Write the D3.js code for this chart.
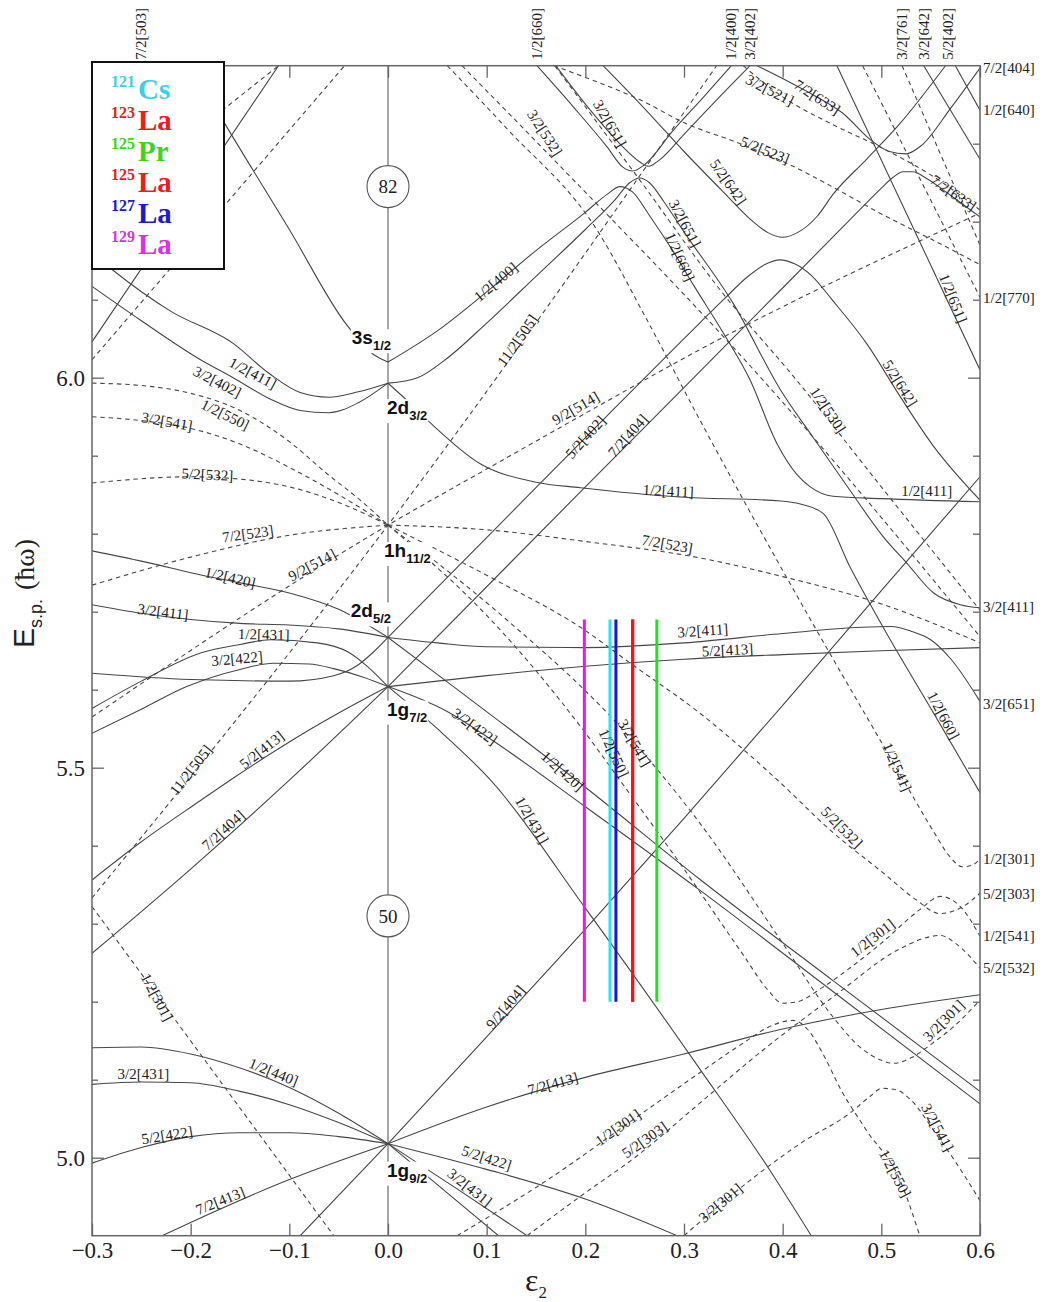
<!DOCTYPE html>
<html>
<head>
<meta charset="utf-8">
<script src="https://cdn.jsdelivr.net/npm/d3@7"></script>
<style>
  body { margin: 0; background: #fff; }
  svg { display: block; }
</style>
</head>
<body>
<svg id="chart" width="1044" height="1302"></svg>
<script>
// ---------------------------------------------------------------
// Nilsson single-particle levels, proton N = 50–82 region.
// Each level is a list of [ε2, E (ħω)] points.
// ---------------------------------------------------------------
const xDomain = [-0.3, 0.6];
const yDomain = [4.9, 6.4];
const xTicks = [-0.3, -0.2, -0.1, 0.0, 0.1, 0.2, 0.3, 0.4, 0.5, 0.6];
const yMajorTicks = [5.0, 5.5, 6.0];
const yMinorTicks = [5.1, 5.2, 5.3, 5.4, 5.6, 5.7, 5.8, 5.9, 6.1, 6.2, 6.3];

// positive-parity levels from 1g9/2
const levelsG92 = [
  [[-0.3,5.141],[-0.25,5.142],[-0.2,5.133],[-0.15,5.115],[-0.1,5.09],[-0.05,5.057],[0,5.018]],
  [[0,5.018],[0.06,4.955],[0.112,4.9]],
  [[-0.3,5.094],[-0.25,5.097],[-0.2,5.096],[-0.15,5.085],[-0.1,5.068],[-0.05,5.045],[0,5.018]],
  [[0,5.018],[0.07,4.96],[0.141,4.9]],
  [[-0.3,4.993],[-0.25,5.013],[-0.2,5.027],[-0.15,5.032],[-0.1,5.032],[-0.05,5.027],[0,5.018]],
  [[0,5.018],[0.1,4.985],[0.2,4.947],[0.293,4.9]],
  [[-0.229,4.9],[-0.2,4.917],[-0.1,4.972],[0,5.018]],
  [[0,5.018],[0.1,5.065],[0.2,5.103],[0.3,5.133],[0.4,5.165],[0.5,5.19],[0.6,5.209]],
  [[-0.089,4.9],[0,5.018]],
  [[0,5.018],[0.1,5.155],[0.2,5.293],[0.3,5.435],[0.4,5.58],[0.5,5.727],[0.6,5.873]]
];

// positive-parity levels from 1g7/2 and 2d5/2
const levelsG72D52 = [
  [[0,5.604],[0.05,5.55],[0.104,5.484],[0.2,5.32],[0.317,5.112],[0.387,4.984],[0.429,4.9]],
  [[0,5.604],[0.06,5.572],[0.1,5.54],[0.2,5.45],[0.316,5.343],[0.45,5.214],[0.6,5.069]],
  [[0,5.667],[0.06,5.61],[0.2,5.475],[0.316,5.357],[0.45,5.228],[0.6,5.085]],
  [[-0.3,5.778],[-0.24,5.762],[-0.2,5.75],[-0.15,5.737],[-0.1,5.724],[-0.05,5.703],[0,5.667]],
  [[-0.3,5.709],[-0.25,5.698],[-0.2,5.69],[-0.15,5.685],[-0.1,5.683],[-0.05,5.678],[0,5.667]],
  [[0,5.667],[0.05,5.66],[0.1,5.655],[0.2,5.654],[0.3,5.66],[0.4,5.672],[0.48,5.68],[0.51,5.681],[0.53,5.675],[0.55,5.664],[0.57,5.64],[0.6,5.585]],
  [[-0.3,5.621],[-0.2,5.613],[-0.1,5.611],[-0.055,5.618],[-0.03,5.632],[-0.015,5.648],[0,5.667]],
  [[-0.3,5.576],[-0.25,5.611],[-0.19,5.647],[-0.15,5.658],[-0.119,5.664],[-0.072,5.66],[-0.04,5.648],[-0.021,5.63],[0,5.604]],
  [[-0.3,5.544],[-0.25,5.575],[-0.204,5.604],[-0.15,5.626],[-0.116,5.634],[-0.08,5.633],[-0.055,5.627],[-0.025,5.616],[0,5.604]],
  [[-0.3,5.356],[-0.25,5.405],[-0.19,5.458],[-0.16,5.484],[-0.1,5.533],[-0.05,5.57],[0,5.604]],
  [[0,5.604],[0.1,5.618],[0.2,5.63],[0.3,5.639],[0.4,5.645],[0.5,5.65],[0.6,5.654]],
  [[-0.3,5.262],[-0.2,5.37],[-0.1,5.484],[0,5.604]]
];

// positive-parity levels above the N = 50–82 gap region
const levelsUpperSolid = [
  [[0,5.604],[0.2,5.86],[0.4,6.115],[0.46,6.192],[0.485,6.224],[0.5,6.243],[0.512,6.257],[0.522,6.264],[0.532,6.264],[0.545,6.256],[0.57,6.234],[0.6,6.206]],
  [[0,5.667],[0.1,5.795],[0.225,5.955],[0.3,6.05],[0.34,6.1],[0.365,6.13],[0.382,6.145],[0.397,6.151],[0.412,6.146],[0.43,6.13],[0.45,6.1],[0.485,6.044],[0.519,5.976],[0.553,5.912],[0.6,5.843]],
  [[0.218,6.4],[0.26,6.345],[0.3,6.29],[0.34,6.238],[0.37,6.2],[0.385,6.186],[0.4,6.18],[0.415,6.186],[0.435,6.207],[0.451,6.235],[0.485,6.28],[0.519,6.326],[0.565,6.4]],
  [[0.374,6.4],[0.42,6.37],[0.461,6.339],[0.491,6.303],[0.508,6.29],[0.525,6.287],[0.54,6.297],[0.57,6.345],[0.6,6.397]],
  [[0.455,6.4],[0.6,6.01]],
  [[0.543,6.4],[0.6,6.28]],
  [[0.575,6.4],[0.6,6.343]],
  [[0.151,6.4],[0.188,6.347],[0.222,6.296],[0.238,6.27],[0.248,6.265],[0.26,6.273],[0.289,6.317],[0.32,6.36],[0.348,6.4]],
  [[0.17,6.4],[0.205,6.343],[0.238,6.296],[0.256,6.276],[0.264,6.271],[0.275,6.279],[0.3,6.312],[0.33,6.352],[0.367,6.4]],
  [[0,6.02],[0.05,6.06],[0.1,6.11],[0.15,6.163],[0.2,6.212],[0.222,6.235],[0.235,6.245],[0.248,6.238],[0.265,6.208],[0.29,6.16],[0.31,6.118],[0.34,6.057],[0.367,5.997],[0.394,5.916],[0.415,5.875],[0.428,5.86],[0.451,5.848],[0.5,5.845],[0.6,5.841]],
  [[0,5.993],[0.03,6.0],[0.06,6.025],[0.1,6.07],[0.15,6.13],[0.2,6.19],[0.23,6.228],[0.245,6.25],[0.255,6.256],[0.265,6.25],[0.28,6.225],[0.3,6.187],[0.35,6.095],[0.398,5.984],[0.43,5.925],[0.468,5.856],[0.502,5.796],[0.526,5.762],[0.553,5.724],[0.58,5.709],[0.6,5.705]],
  [[0,5.993],[0.02,5.97],[0.043,5.942],[0.093,5.89],[0.15,5.866],[0.195,5.859],[0.296,5.847],[0.398,5.842],[0.418,5.838],[0.441,5.826],[0.468,5.758],[0.505,5.673],[0.553,5.57],[0.6,5.468]],
  [[-0.3,6.16],[-0.28,6.139],[-0.22,6.085],[-0.157,6.044],[-0.12,6.005],[-0.089,5.981],[-0.06,5.975],[-0.03,5.982],[0,5.993]],
  [[-0.3,6.117],[-0.25,6.073],[-0.19,6.023],[-0.157,6.0],[-0.12,5.973],[-0.089,5.958],[-0.06,5.955],[-0.03,5.968],[0,5.993]],
  [[-0.2,6.4],[-0.166,6.327],[-0.1,6.19],[-0.042,6.068],[-0.015,6.03],[0,6.02]],
  [[-0.3,6.046],[-0.111,6.4]]
];

// negative-parity levels from 1h11/2 and the N = 3 shell
const levelsH112 = [
  [[-0.3,5.993],[-0.25,5.99],[-0.2,5.98],[-0.15,5.958],[-0.1,5.918],[-0.06,5.875],[-0.03,5.845],[0,5.811]],
  [[-0.3,5.95],[-0.25,5.945],[-0.2,5.935],[-0.15,5.915],[-0.1,5.885],[-0.05,5.85],[0,5.811]],
  [[-0.3,5.865],[-0.2,5.873],[-0.15,5.87],[-0.1,5.86],[-0.05,5.84],[0,5.811]],
  [[-0.3,5.734],[-0.2,5.77],[-0.1,5.798],[0,5.811]],
  [[-0.3,5.565],[0,5.811],[0.11,5.89],[0.215,5.965],[0.316,6.036],[0.6,6.211]],
  [[-0.3,5.333],[0,5.811],[0.333,6.4]],
  [[0,5.811],[0.1,5.805],[0.2,5.79],[0.316,5.769],[0.4,5.745],[0.5,5.71],[0.6,5.66]],
  [[0,5.811],[0.11,5.74],[0.195,5.68],[0.25,5.63],[0.316,5.57],[0.394,5.485],[0.45,5.418],[0.502,5.365],[0.536,5.33],[0.559,5.313],[0.58,5.32],[0.6,5.339]],
  [[0,5.811],[0.12,5.69],[0.229,5.561],[0.316,5.429],[0.4,5.275],[0.45,5.182],[0.48,5.14],[0.5,5.125],[0.512,5.121],[0.53,5.128],[0.55,5.145],[0.575,5.17],[0.6,5.202]],
  [[0,5.811],[0.104,5.69],[0.195,5.553],[0.235,5.484],[0.3,5.37],[0.36,5.26],[0.385,5.215],[0.4,5.198],[0.415,5.2],[0.44,5.218],[0.47,5.245],[0.5,5.275],[0.539,5.318],[0.56,5.335],[0.58,5.322],[0.6,5.284]],
  [[0.07,4.9],[0.161,4.971],[0.262,5.061],[0.316,5.109],[0.36,5.147],[0.39,5.17],[0.41,5.176],[0.425,5.165],[0.44,5.135],[0.46,5.085],[0.485,5.035],[0.519,4.971],[0.539,4.9]],
  [[0.3,4.9],[0.367,4.971],[0.42,5.02],[0.468,5.057],[0.49,5.08],[0.5,5.089],[0.515,5.087],[0.53,5.074],[0.553,5.035],[0.575,4.995],[0.6,4.945]],
  [[0.141,4.9],[0.2,4.955],[0.25,5.0],[0.316,5.07],[0.384,5.142],[0.451,5.206],[0.519,5.268],[0.545,5.282],[0.56,5.285],[0.575,5.275],[0.6,5.243]],
  [[-0.3,5.322],[-0.055,4.9]]
];

// negative-parity levels coming down from the shells above
const levelsUpperDashed = [
  [[0.06,6.4],[0.12,6.32],[0.212,6.189],[0.26,6.08],[0.316,5.946],[0.434,5.677],[0.499,5.535],[0.532,5.463],[0.553,5.418],[0.57,5.385],[0.582,5.373],[0.592,5.375],[0.6,5.383]],
  [[0.075,6.4],[0.16,6.29],[0.38,5.997],[0.6,5.668]],
  [[0.169,6.4],[0.256,6.252],[0.337,6.112],[0.414,5.997],[0.5,5.86],[0.6,5.702]],
  [[0.168,6.4],[0.2,6.385],[0.256,6.356],[0.3,6.327],[0.357,6.3],[0.404,6.275],[0.45,6.245],[0.5,6.21],[0.55,6.178],[0.6,6.145]],
  [[0.36,6.4],[0.4,6.36],[0.45,6.325],[0.5,6.295],[0.55,6.26],[0.6,6.215]],
  [[0.521,6.4],[0.6,6.17]],
  [[0.481,6.4],[0.6,6.103]],
  [[-0.3,6.023],[-0.044,6.4]],
  [[-0.3,6.21],[-0.111,6.4]]
];

// orbital labels: text, ε2, E, slant (deg)
const orbitalLabels = [
  ["1/2[411]",-0.137,6.006,28], ["3/2[402]",-0.173,5.995,27], ["1/2[550]",-0.165,5.953,26],
  ["3/2[541]",-0.224,5.944,10], ["5/2[532]",-0.183,5.876,3], ["7/2[523]",-0.142,5.800,-8],
  ["1/2[420]",-0.160,5.744,13], ["9/2[514]",-0.077,5.760,-28], ["3/2[411]",-0.228,5.700,7],
  ["1/2[431]",-0.126,5.671,1], ["3/2[422]",-0.153,5.640,-5], ["11/2[505]",-0.200,5.497,-52],
  ["5/2[413]",-0.128,5.523,-38], ["7/2[404]",-0.167,5.420,-42], ["1/2[301]",-0.234,5.206,62],
  ["1/2[440]",-0.116,5.110,22], ["3/2[431]",-0.248,5.108,0], ["5/2[422]",-0.224,5.029,-9],
  ["7/2[413]",-0.170,4.945,-22],
  ["3/2[651]",0.225,6.326,60], ["3/2[532]",0.159,6.314,57], ["5/2[642]",0.345,6.251,55],
  ["3/2[521]",0.387,6.369,27], ["7/2[633]",0.435,6.360,33], ["5/2[523]",0.382,6.292,22],
  ["7/2[633]",0.573,6.237,35], ["3/2[651]",0.301,6.198,62], ["1/2[660]",0.296,6.155,66],
  ["1/2[400]",0.109,6.123,-40], ["11/2[505]",0.131,6.048,-55], ["1/2[651]",0.573,6.102,68],
  ["5/2[642]",0.519,5.993,58], ["1/2[530]",0.446,5.959,56], ["9/2[514]",0.190,5.961,-30],
  ["5/2[402]",0.200,5.924,-48], ["7/2[404]",0.243,5.926,-48], ["1/2[411]",0.284,5.855,3],
  ["1/2[411]",0.546,5.855,0], ["7/2[523]",0.283,5.787,10], ["3/2[411]",0.319,5.676,-4],
  ["5/2[413]",0.344,5.651,-3], ["3/2[422]",0.088,5.553,36], ["1/2[420]",0.177,5.496,42],
  ["1/2[550]",0.229,5.519,65], ["3/2[541]",0.250,5.532,60], ["1/2[431]",0.146,5.433,60],
  ["1/2[541]",0.516,5.501,66], ["1/2[660]",0.563,5.567,62], ["5/2[532]",0.460,5.424,45],
  ["9/2[404]",0.119,5.193,-50], ["7/2[413]",0.167,5.095,-15], ["1/2[301]",0.233,5.039,-35],
  ["5/2[303]",0.260,5.023,-35], ["5/2[422]",0.100,5.000,18], ["3/2[431]",0.083,4.962,38],
  ["3/2[301]",0.337,4.942,-40], ["1/2[301]",0.491,5.282,-38], ["3/2[301]",0.563,5.176,-45],
  ["3/2[541]",0.557,5.039,62], ["1/2[550]",0.514,4.980,62]
];

// labels at the upper edge (ε2) and the right edge (E)
const topLabels = [["7/2[503]",-0.251],["1/2[660]",0.151],["1/2[400]",0.347],["3/2[402]",0.367],
                   ["3/2[761]",0.521],["3/2[642]",0.543],["5/2[402]",0.567]];
const rightLabels = [["7/2[404]",6.397],["1/2[640]",6.343],["1/2[770]",6.102],["3/2[411]",5.706],
                     ["3/2[651]",5.582],["1/2[301]",5.383],["5/2[303]",5.339],["1/2[541]",5.284],
                     ["5/2[532]",5.243]];

// spherical orbitals at ε2 = 0
const shellLabels = [["3s","1/2",6.020],["2d","3/2",5.993],["1h","11/2",5.811],
                     ["2d","5/2",5.667],["1g","7/2",5.604],["1g","9/2",5.018]];
const magicNumbers = [[82,6.245],[50,5.310]];

// deformations of the nuclei (ε2) and the energy span of their markers
const nuclei = [["121","Cs","#3ccfe8"],["123","La","#ee1c1c"],["125","Pr","#3fd41a"],
                ["125","La","#ee1c1c"],["127","La","#1a1ad0"],["129","La","#df2edf"]];
const nucleusEps = [0.225, 0.248, 0.2725, 0.248, 0.231, 0.199];
const barColors = ["#22e6f0","#f01414","#22e022","#f01414","#1414e0","#ee14ee"];
const barRange = [5.2, 5.69];

// ---------------------------------------------------------------
const W = 1044, H = 1302;
const margin = { left: 92, right: 64, top: 65.7, bottom: 66.3 };
const svg = d3.select("#chart");
const x = d3.scaleLinear().domain(xDomain).range([margin.left, W - margin.right]);
const y = d3.scaleLinear().domain(yDomain).range([H - margin.bottom, margin.top]);
const SERIF = "'Liberation Serif', 'Times New Roman', serif";
const SANS = "'Liberation Sans', Arial, sans-serif";
const lineColor = "#464646";

svg.append("defs").append("clipPath").attr("id", "plotClip")
  .append("rect").attr("x", x(-0.3)).attr("y", y(6.4))
  .attr("width", x(0.6) - x(-0.3)).attr("height", y(4.9) - y(6.4));

// ε2 = 0 axis
svg.append("line").attr("x1", x(0)).attr("x2", x(0)).attr("y1", y(6.4)).attr("y2", y(4.9))
  .attr("stroke", "#777").attr("stroke-width", 1.3);

const plot = svg.append("g").attr("clip-path", "url(#plotClip)");
const line = d3.line().x(d => x(d[0])).y(d => y(d[1])).curve(d3.curveMonotoneX);

function drawLevels(list, dashed) {
  plot.append("g").selectAll("path").data(list).join("path")
    .attr("d", d => line(d.slice().sort((a, b) => a[0] - b[0])))
    .attr("fill", "none").attr("stroke", lineColor).attr("stroke-width", 1.1)
    .attr("stroke-dasharray", dashed ? "4.5,3.8" : null);
}
drawLevels(levelsG92, false);
drawLevels(levelsG72D52, false);
drawLevels(levelsUpperSolid, false);
drawLevels(levelsH112, true);
drawLevels(levelsUpperDashed, true);

// deformation markers
plot.append("g").selectAll("line").data(nucleusEps).join("line")
  .attr("x1", d => x(d)).attr("x2", d => x(d))
  .attr("y1", y(barRange[1])).attr("y2", y(barRange[0]))
  .attr("stroke", (d, i) => barColors[i]).attr("stroke-width", 3);

// orbital labels
svg.append("g").selectAll("text").data(orbitalLabels).join("text")
  .attr("transform", d => `translate(${x(d[1])},${y(d[2])}) rotate(${d[3]})`)
  .attr("text-anchor", "middle").attr("dy", "0.35em")
  .attr("font-family", SERIF).attr("font-size", 15).attr("fill", "#222")
  .text(d => d[0]);

// frame
svg.append("rect").attr("x", x(-0.3)).attr("y", y(6.4))
  .attr("width", x(0.6) - x(-0.3)).attr("height", y(4.9) - y(6.4))
  .attr("fill", "none").attr("stroke", "#666").attr("stroke-width", 1.5);

// axes
function styleAxis(g) {
  g.select(".domain").remove();
  g.selectAll(".tick line").attr("stroke", "#666").attr("stroke-width", 1.3);
  g.selectAll(".tick text").attr("font-family", SERIF).attr("font-size", 23).attr("fill", "#222");
}
svg.append("g").attr("transform", `translate(0,${y(4.9)})`)
  .call(d3.axisBottom(x).tickValues(xTicks).tickSize(-12).tickPadding(6).tickFormat(d3.format(".1f")))
  .call(styleAxis);
svg.append("g").attr("transform", `translate(0,${y(6.4)})`)
  .call(d3.axisTop(x).tickValues(xTicks).tickSize(-12).tickFormat(""))
  .call(styleAxis);
svg.append("g").attr("transform", `translate(${x(-0.3)},0)`)
  .call(d3.axisLeft(y).tickValues(yMajorTicks).tickSize(-12).tickPadding(7).tickFormat(d3.format(".1f")))
  .call(styleAxis);
svg.append("g").attr("transform", `translate(${x(-0.3)},0)`)
  .call(d3.axisLeft(y).tickValues(yMinorTicks).tickSize(-6).tickFormat(""))
  .call(styleAxis);
svg.append("g").attr("transform", `translate(${x(0.6)},0)`)
  .call(d3.axisRight(y).tickValues(yMajorTicks).tickSize(-12).tickFormat(""))
  .call(styleAxis);
svg.append("g").attr("transform", `translate(${x(0.6)},0)`)
  .call(d3.axisRight(y).tickValues(yMinorTicks).tickSize(-7).tickFormat(""))
  .call(styleAxis);

// axis titles
const yTitle = svg.append("text")
  .attr("transform", "translate(34,648) rotate(-90)")
  .attr("fill", "#222");
yTitle.append("tspan").attr("font-family", SANS).attr("font-size", 30).text("E");
yTitle.append("tspan").attr("font-family", SANS).attr("font-size", 18).attr("dy", 8).text("s.p.");
yTitle.append("tspan").attr("font-family", SERIF).attr("font-size", 28).attr("dy", -8).attr("dx", 9).text("(ħω)");

const xTitle = svg.append("text")
  .attr("x", (x(-0.3) + x(0.6)) / 2).attr("y", 1291)
  .attr("text-anchor", "middle").attr("fill", "#222");
xTitle.append("tspan").attr("font-family", SERIF).attr("font-size", 32).text("ε");
xTitle.append("tspan").attr("font-family", SERIF).attr("font-size", 17).attr("dy", 7).text("2");

// edge labels
svg.append("g").selectAll("text").data(topLabels).join("text")
  .attr("transform", d => `translate(${x(d[1])},${y(6.4) - 6}) rotate(-90)`)
  .attr("dy", "0.35em").attr("font-family", SERIF).attr("font-size", 15).attr("fill", "#222")
  .text(d => d[0]);
svg.append("g").selectAll("text").data(rightLabels).join("text")
  .attr("x", x(0.6) + 3).attr("y", d => y(d[1])).attr("dy", "0.35em")
  .attr("font-family", SERIF).attr("font-size", 15).attr("fill", "#222")
  .text(d => d[0]);

// magic-number circles
const magic = svg.append("g").selectAll("g").data(magicNumbers).join("g")
  .attr("transform", d => `translate(${x(0)},${y(d[1])})`);
magic.append("circle").attr("r", 21).attr("fill", "#fff").attr("stroke", "#555").attr("stroke-width", 1.1);
magic.append("text").attr("text-anchor", "middle").attr("dy", "0.35em")
  .attr("font-family", SERIF).attr("font-size", 19).attr("fill", "#222").text(d => d[0]);

// spherical shell labels (placement relative to the ε2 = 0 node)
const shellPlacement = [
  { anchor: "end", dx: 3, dy: -18 },
  { anchor: "start", dx: -1, dy: 31 },
  { anchor: "start", dx: -4, dy: 32 },
  { anchor: "end", dx: 3, dy: -20 },
  { anchor: "start", dx: -1, dy: 29 },
  { anchor: "start", dx: -1, dy: 33 }
];
shellLabels.forEach((s, i) => {
  const p = shellPlacement[i];
  const g = svg.append("g");
  const t = g.append("text")
    .attr("x", x(0) + p.dx).attr("y", y(s[2]) + p.dy)
    .attr("text-anchor", p.anchor).attr("font-family", SANS).attr("font-weight", "bold").attr("fill", "#111");
  t.append("tspan").attr("font-size", 19).text(s[0]);
  t.append("tspan").attr("font-size", 13).attr("dy", 6).text(s[1]);
  const bb = t.node().getBBox();
  g.insert("rect", "text").attr("x", bb.x - 1).attr("y", bb.y + 2)
    .attr("width", bb.width + 2).attr("height", bb.height - 2).attr("fill", "#fff");
});

// legend: mass number (superscript) and element symbol as separate texts
const legend = svg.append("g");
legend.append("rect").attr("x", 92).attr("y", 62).attr("width", 132).attr("height", 207)
  .attr("fill", "#fff").attr("stroke", "#111").attr("stroke-width", 2);
const legendRows = legend.selectAll("g").data(nuclei).join("g")
  .attr("transform", (d, i) => `translate(0,${99 + i * 31})`);
legendRows.append("text").attr("x", 135).attr("y", -12).attr("text-anchor", "end")
  .attr("font-family", SERIF).attr("font-weight", "bold").attr("font-size", 16)
  .attr("fill", d => d[2]).text(d => d[0]);
legendRows.append("text").attr("x", 138).attr("y", 0)
  .attr("font-family", SERIF).attr("font-weight", "bold").attr("font-size", 29)
  .attr("fill", d => d[2]).text(d => d[1]);
</script>
</body>
</html>
